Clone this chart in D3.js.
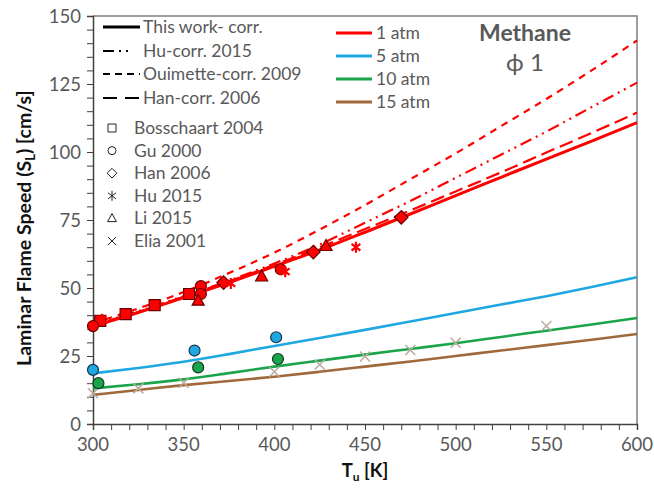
<!DOCTYPE html>
<html>
<head>
<meta charset="utf-8">
<script src="https://cdn.jsdelivr.net/npm/d3@7"></script>
<style>
  body { margin: 0; background: #fff; }
  svg { display: block; font-family: Lato, "Open Sans", sans-serif; }
</style>
</head>
<body>
<svg id="chart" width="654" height="488"></svg>
<script>
// Unburned temperature grid for the correlation curves [K]
const tGrid = [300, 325, 350, 375, 400, 425, 450, 475, 500, 525, 550, 575, 600];

// 1 atm correlations [cm/s]
const thisWork1 = [36, 41, 46.5, 52, 58, 64, 70.5, 77.2, 84, 90.7, 97.4, 104, 110.8];
const huCorr1 = [36.5, 41.5, 47, 52.7, 59, 66, 74, 82, 90.5, 99, 107.5, 116.5, 125.5];
const ouimetteCorr1 = [37, 42.5, 48.5, 55.5, 63, 71.5, 80.5, 90, 99.5, 109.5, 119.5, 130, 141];
const hanCorr1 = [36.5, 41.2, 46.8, 52.5, 58.5, 65, 71.7, 78.5, 85.5, 92.5, 99.8, 107, 114.5];

// Elevated pressure correlations [cm/s]
const thisWork5 = [18.6, 20.6, 22.9, 25.7, 28.7, 31.6, 34.6, 37.7, 40.8, 43.9, 47, 50.4, 54];
const thisWork10 = [13.1, 14.6, 16.4, 18.7, 21.1, 23.3, 25.5, 27.6, 29.7, 32, 34.3, 36.6, 39];
const thisWork15 = [10.7, 12.5, 14.3, 15.8, 17.4, 19.2, 21.1, 23, 25, 27, 29, 31, 33.1];

// Measurements: [T (K), S_L (cm/s)]
const bosschaart1 = [[304, 37.9], [318, 40.4], [334, 43.7], [353, 47.8]];
const gu1 = [[300, 36], [359.5, 50.7], [359.5, 47.8], [403.5, 56.9]];
const gu5 = [[300, 19.9], [356, 27], [401, 31.9]];
const gu10 = [[303, 15], [358, 20.8], [402, 23.9]];
const han1 = [[372, 52], [421.5, 63.2], [470, 76]];
const hu1 = [[305, 38.5], [376, 51.7], [406, 56], [445, 65]];
const li1 = [[358, 45.3], [393, 54.2], [428.5, 65.4]];
const elia = [[300, 11.3], [325, 13.1], [350, 15.2], [400, 19.2], [425, 21.9], [450, 24.8], [475, 27.2], [500, 29.9], [550, 36]];

// Axis ticks
const xTicks = [300, 350, 400, 450, 500, 550, 600];
const yTicks = [0, 25, 50, 75, 100, 125, 150];

const svg = d3.select("#chart");
const x = d3.scaleLinear().domain([300, 600]).range([93, 637]);
const y = d3.scaleLinear().domain([0, 150]).range([424, 16]);

const RED = "#ff0000", BLUE = "#1ea7e1", GREEN = "#1aa54b", BROWN = "#a0693c";
const TXT = "#595959";

// Plot frame (top and right edges)
svg.append("path")
  .attr("d", `M${x(300)},${y(150)}H${x(600)}V${y(0)}`)
  .attr("fill", "none").attr("stroke", "#7f7f7f").attr("stroke-width", 1.5);

// Axes
const xAxis = d3.axisBottom(x).tickValues(d3.range(300, 601, 10)).tickSize(6).tickFormat("");
const gx = svg.append("g").attr("transform", `translate(0,${y(0)})`).call(xAxis);
const yAxis = d3.axisLeft(y).tickValues(d3.range(0, 151, 5)).tickSize(6).tickFormat("");
const gy = svg.append("g").attr("transform", `translate(${x(300)},0)`).call(yAxis);
[gx, gy].forEach(g => {
  g.select(".domain").attr("stroke", "#404040").attr("stroke-width", 1.5);
  g.selectAll(".tick line").attr("stroke", "#404040").attr("stroke-width", 1);
});

svg.append("g").selectAll("text").data(xTicks).join("text")
  .attr("x", d => x(d)).attr("y", 451)
  .attr("text-anchor", "middle").attr("fill", TXT).attr("font-size", 18.5)
  .text(d => d);
svg.append("g").selectAll("text").data(yTicks).join("text")
  .attr("x", 81).attr("y", d => y(d) + 6.5)
  .attr("text-anchor", "end").attr("fill", TXT).attr("font-size", 18.5)
  .text(d => d);

// Axis titles
const xt = svg.append("text").attr("x", x(450)).attr("y", 477)
  .attr("text-anchor", "middle").attr("font-weight", "bold").attr("font-size", 18.5).attr("fill", "#111");
xt.append("tspan").text("T");
xt.append("tspan").attr("font-size", 12).attr("dy", 4).text("u");
xt.append("tspan").attr("dy", -4).text(" [K]");

const yt = svg.append("text").attr("transform", `translate(31,${y(72)}) rotate(-90)`)
  .attr("text-anchor", "middle").attr("font-weight", "bold").attr("font-size", 19.5).attr("fill", "#111");
yt.append("tspan").text("Laminar Flame Speed (S");
yt.append("tspan").attr("font-size", 13).attr("dy", 4).text("L");
yt.append("tspan").attr("dy", -4).text(") [cm/s]");

// Curves
const line = d3.line().x(d => x(d[0])).y(d => y(d[1])).curve(d3.curveMonotoneX);
const curves = [
  { v: ouimetteCorr1, c: RED, w: 2.2, dash: "7,6" },
  { v: huCorr1, c: RED, w: 2.2, dash: "12,5,2,5,2,5" },
  { v: hanCorr1, c: RED, w: 2.2, dash: "14,6" },
  { v: thisWork15, c: BROWN, w: 2.6, dash: null },
  { v: thisWork10, c: GREEN, w: 2.6, dash: null },
  { v: thisWork5, c: BLUE, w: 2.6, dash: null },
  { v: thisWork1, c: RED, w: 3, dash: null }
];
svg.append("g").selectAll("path").data(curves).join("path")
  .attr("d", d => line(tGrid.map((t, i) => [t, d.v[i]])))
  .attr("fill", "none").attr("stroke", d => d.c).attr("stroke-width", d => d.w)
  .attr("stroke-dasharray", d => d.dash);

// Marker shape paths
const shape = {
  square: s => `M${-s},${-s}H${s}V${s}H${-s}Z`,
  circle: s => d3.symbol(d3.symbolCircle, Math.PI * s * s)(),
  diamond: s => `M0,${-s * 1.35}L${s * 1.35},0L0,${s * 1.35}L${-s * 1.35},0Z`,
  triangle: s => `M0,${-s * 1.2}L${s * 1.1},${s * 0.8}L${-s * 1.1},${s * 0.8}Z`,
  asterisk: s => `M0,${-s}V${s}M${-s * 0.8},${-s * 0.6}L${s * 0.8},${s * 0.6}M${-s * 0.8},${s * 0.6}L${s * 0.8},${-s * 0.6}`,
  cross: s => `M${-s},${-s}L${s},${s}M${-s},${s}L${s},${-s}`
};

function markers(data, kind, size, fill, stroke, sw) {
  svg.append("g").selectAll("path").data(data).join("path")
    .attr("transform", d => `translate(${x(d[0])},${y(d[1])})`)
    .attr("d", shape[kind](size))
    .attr("fill", fill).attr("stroke", stroke).attr("stroke-width", sw);
}
markers(elia, "cross", 5, "none", "#b9aa9b", 1.5);
markers(gu10, "circle", 5.5, GREEN, "#103a20", 1.2);
markers(gu5, "circle", 5.5, BLUE, "#14354a", 1.2);
markers(bosschaart1, "square", 5.5, RED, "#6a0000", 1.2);
markers(gu1, "circle", 5.5, RED, "#6a0000", 1.2);
markers(han1, "diamond", 5, RED, "#6a0000", 1.2);
markers(li1, "triangle", 5.5, RED, "#6a0000", 1.2);
markers(hu1, "asterisk", 5.5, "none", RED, 2.2);

// Legend: correlation line styles
const legLines = [
  { label: "This work- corr.", dash: null, w: 3 },
  { label: "Hu-corr. 2015", dash: "11,5,2,5,2,40", w: 2 },
  { label: "Ouimette-corr. 2009", dash: "7,5", w: 2 },
  { label: "Han-corr. 2006", dash: "14,8", w: 2 }
];
const legY = [27, 51, 74, 98];
legLines.forEach((d, i) => {
  svg.append("line").attr("x1", 103).attr("x2", 140).attr("y1", legY[i]).attr("y2", legY[i])
    .attr("stroke", "#000").attr("stroke-width", d.w).attr("stroke-dasharray", d.dash);
  svg.append("text").attr("x", 143).attr("y", legY[i] + 6).attr("fill", TXT).attr("font-size", 17.5).text(d.label);
});

// Legend: measurement symbols
const legMarks = [
  { label: "Bosschaart 2004", kind: "square", s: 4 },
  { label: "Gu 2000", kind: "circle", s: 4 },
  { label: "Han 2006", kind: "diamond", s: 3.6 },
  { label: "Hu 2015", kind: "asterisk", s: 5 },
  { label: "Li 2015", kind: "triangle", s: 4 },
  { label: "Elia 2001", kind: "cross", s: 4 }
];
legMarks.forEach((d, i) => {
  const yy = 128 + i * 22.6;
  svg.append("path").attr("transform", `translate(112,${yy})`).attr("d", shape[d.kind](d.s))
    .attr("fill", "none").attr("stroke", "#222").attr("stroke-width", 1);
  svg.append("text").attr("x", 134).attr("y", yy + 6).attr("fill", TXT).attr("font-size", 17.5).text(d.label);
});

// Legend: pressure colours
const legP = [
  { label: "1 atm", c: RED }, { label: "5 atm", c: BLUE },
  { label: "10 atm", c: GREEN }, { label: "15 atm", c: BROWN }
];
legP.forEach((d, i) => {
  const yy = 33 + i * 23;
  svg.append("line").attr("x1", 336).attr("x2", 372).attr("y1", yy).attr("y2", yy)
    .attr("stroke", d.c).attr("stroke-width", 3);
  svg.append("text").attr("x", 376).attr("y", yy + 6).attr("fill", TXT).attr("font-size", 17.5).text(d.label);
});

// Fuel and equivalence ratio annotation
svg.append("text").attr("x", 525).attr("y", 41).attr("text-anchor", "middle")
  .attr("font-weight", "bold").attr("font-size", 23).attr("fill", TXT).text("Methane");
svg.append("text").attr("x", 525).attr("y", 71).attr("text-anchor", "middle")
  .attr("font-size", 24).attr("fill", TXT).text("ϕ 1");
</script>
</body>
</html>
